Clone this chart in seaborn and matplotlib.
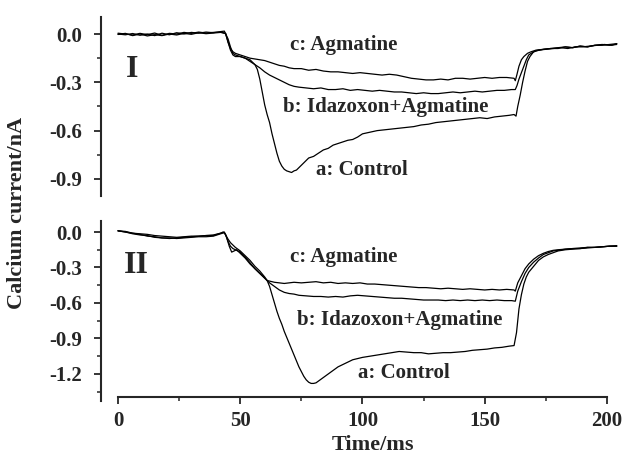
import numpy as np
import pandas as pd
import matplotlib
matplotlib.use("Agg")
import matplotlib.pyplot as plt
from matplotlib.ticker import MultipleLocator, FixedLocator
import seaborn as sns

# ---------------- data ----------------
# Panel I
I_a_t = [0, 3, 6, 9, 12, 15, 18, 21, 24, 27, 30, 33, 36, 39, 42, 43.5,
         45, 46, 47, 48, 50, 52, 54, 56, 57, 58, 59, 60, 61, 62, 63, 64, 65, 66, 67, 68, 69, 70, 71, 72, 73, 74,
         76, 78, 80, 82, 84, 86, 88, 90, 92, 94, 96, 98, 100, 103, 106, 109, 112, 115, 118, 121, 124, 127,
         130, 133, 136, 139, 142, 145, 148, 151, 154, 157, 160, 162, 162.8, 163.5, 164.5, 165.5, 166.5,
         167.5, 168.5, 170, 172, 175, 178, 181, 184, 187, 190, 193, 196, 199, 202, 204]
I_a_y = [0.0, -0.005, 0.003, -0.008, 0.0, -0.01, 0.005, -0.005, 0.008, 0.0, 0.01, 0.005, 0.012, 0.008, 0.015, 0.018,
         -0.03, -0.08, -0.12, -0.13, -0.14, -0.15, -0.17, -0.19, -0.22, -0.28, -0.36, -0.44, -0.50, -0.55, -0.62,
         -0.68, -0.74, -0.79, -0.82, -0.84, -0.85, -0.855, -0.86, -0.85, -0.845, -0.83,
         -0.80, -0.77, -0.76, -0.74, -0.72, -0.71, -0.69, -0.68, -0.67, -0.66, -0.655, -0.64, -0.62, -0.61,
         -0.60, -0.595, -0.59, -0.585, -0.58, -0.575, -0.565, -0.56,
         -0.55, -0.545, -0.54, -0.535, -0.53, -0.525, -0.52, -0.525, -0.515, -0.51, -0.505, -0.50, -0.51,
         -0.45, -0.38, -0.30, -0.23, -0.17, -0.14, -0.11, -0.10, -0.095, -0.09, -0.085, -0.09, -0.08, -0.08,
         -0.075, -0.07, -0.065, -0.07, -0.06]

I_c_t = [0, 3, 6, 9, 12, 15, 18, 21, 24, 27, 30, 33, 36, 39, 42, 44,
         45, 46, 47, 48, 50, 52, 54, 56, 58, 60, 62, 64, 66, 68, 70, 72, 75, 78, 81, 84, 87, 90, 93, 96, 99,
         102, 105, 108, 111, 114, 117, 120, 123, 126, 129, 132, 135, 138, 141, 144, 147, 150, 153, 156, 159,
         162, 162.5, 163.2, 164, 165, 166, 167.5, 169, 171, 174, 177, 180, 183, 186, 189, 192, 195, 198, 201, 204]
I_c_y = [0.005, 0.0, -0.006, 0.004, -0.004, 0.006, -0.008, 0.004, 0.0, 0.01, 0.004, 0.012, 0.006, 0.01, 0.012, 0.005,
         -0.05, -0.09, -0.11, -0.12, -0.13, -0.14, -0.15, -0.155, -0.16, -0.165, -0.175, -0.185, -0.195, -0.20,
         -0.21, -0.215, -0.215, -0.225, -0.22, -0.23, -0.235, -0.235, -0.24, -0.245, -0.24,
         -0.245, -0.25, -0.255, -0.25, -0.255, -0.265, -0.275, -0.28, -0.285, -0.285, -0.28, -0.285, -0.275,
         -0.275, -0.28, -0.275, -0.27, -0.275, -0.27, -0.27,
         -0.275, -0.29, -0.25, -0.20, -0.16, -0.14, -0.12, -0.11, -0.10, -0.095, -0.09, -0.085, -0.08,
         -0.085, -0.075, -0.08, -0.07, -0.065, -0.07, -0.065]

I_b_t = [0, 3, 6, 9, 12, 15, 18, 21, 24, 27, 30, 33, 36, 39, 42, 44,
         45, 46, 47, 48, 50, 52, 54, 56, 58, 60, 62, 64, 66, 68, 70, 72, 74, 77, 80, 83, 86, 89, 92, 95, 98,
         101, 104, 107, 110, 113, 116, 119, 122, 125, 128, 131, 134, 137, 140, 143, 146, 149, 152, 155, 158,
         161, 162.5, 163.2, 164, 165, 166, 167, 168, 169.5, 171, 174, 177, 180, 183, 186, 189, 192, 195, 198,
         201, 204]
I_b_y = [-0.003, 0.004, -0.01, 0.0, -0.012, -0.004, -0.01, 0.0, -0.006, 0.004, -0.002, 0.008, 0.002, 0.006, 0.01, 0.002,
         -0.05, -0.10, -0.13, -0.14, -0.14, -0.15, -0.16, -0.19, -0.21, -0.235, -0.255, -0.27, -0.285, -0.30,
         -0.315, -0.325, -0.33, -0.335, -0.34, -0.335, -0.345, -0.345, -0.34, -0.35, -0.345,
         -0.35, -0.355, -0.35, -0.355, -0.36, -0.36, -0.365, -0.37, -0.365, -0.37, -0.37, -0.365, -0.36, -0.365,
         -0.36, -0.355, -0.36, -0.355, -0.35, -0.35,
         -0.345, -0.345, -0.32, -0.28, -0.24, -0.20, -0.16, -0.13, -0.115, -0.105, -0.095, -0.09, -0.09,
         -0.08, -0.085, -0.075, -0.08, -0.07, -0.07, -0.065, -0.06]

# Panel II
II_a_t = [0, 3, 6, 9, 12, 15, 18, 21, 24, 27, 30, 33, 36, 39, 42, 43,
          44, 45, 46, 47, 48, 50, 52, 54, 56, 58, 60, 61, 62, 63, 64, 65, 66, 67, 68, 69, 70, 71, 72, 73, 74, 75,
          76, 77, 78, 79, 80, 81, 82, 84, 86, 88, 90, 92, 94, 96, 98, 100, 103, 106, 109, 112, 115, 118, 121,
          124, 127, 130, 133, 136, 139, 142, 145, 148, 151, 154, 157, 160, 162, 163, 164, 165, 166, 167, 168,
          170, 172, 174, 176, 178, 180, 183, 186, 189, 192, 195, 198, 201, 204]
II_a_y = [0.01, 0.0, -0.01, -0.015, -0.02, -0.03, -0.035, -0.04, -0.045, -0.04, -0.035, -0.035, -0.03, -0.03, -0.01, 0.0,
          -0.02, -0.08, -0.12, -0.14, -0.15, -0.17, -0.21, -0.26, -0.31, -0.35, -0.39, -0.41, -0.46, -0.53, -0.60,
          -0.67, -0.73, -0.78, -0.84, -0.89, -0.94, -0.99, -1.04, -1.09, -1.14, -1.18,
          -1.22, -1.25, -1.27, -1.28, -1.28, -1.275, -1.26, -1.23, -1.20, -1.17, -1.14, -1.12, -1.10, -1.08, -1.07,
          -1.06, -1.05, -1.04, -1.03, -1.02, -1.01, -1.015, -1.02,
          -1.02, -1.03, -1.025, -1.02, -1.02, -1.015, -1.01, -1.00, -0.995, -0.99, -0.98, -0.975, -0.965, -0.96,
          -0.85, -0.65, -0.53, -0.44, -0.38, -0.34,
          -0.29, -0.24, -0.21, -0.19, -0.175, -0.16, -0.15, -0.145, -0.14, -0.135, -0.13, -0.125, -0.12, -0.12]

II_c_t = [0, 3, 6, 9, 12, 15, 18, 21, 24, 27, 30, 33, 36, 39, 42, 43.5,
          44.5, 45.5, 46.5, 47.5, 48.5, 50, 52, 54, 56, 58, 60, 61, 62, 64, 66, 68, 70, 72, 75, 78, 81, 84, 87,
          90, 93, 96, 99, 102, 105, 108, 111, 114, 117, 120, 123, 126, 129, 132, 135, 138, 141, 144, 147, 150,
          153, 156, 159, 162, 162.5, 163.5, 165, 166.5, 168, 170, 172, 174, 176, 178, 180, 183, 186, 189, 192,
          195, 198, 201, 204]
II_c_y = [0.01, 0.0, -0.015, -0.025, -0.03, -0.045, -0.05, -0.055, -0.05, -0.045, -0.04, -0.035, -0.03, -0.025, -0.01, 0.0,
          -0.05, -0.12, -0.17, -0.16, -0.15, -0.18, -0.22, -0.27, -0.31, -0.35, -0.39, -0.41, -0.415, -0.425,
          -0.43, -0.435, -0.43, -0.425, -0.43, -0.425, -0.42, -0.43, -0.425,
          -0.435, -0.43, -0.435, -0.43, -0.44, -0.44, -0.445, -0.45, -0.455, -0.46, -0.465, -0.47, -0.47, -0.475,
          -0.48, -0.475, -0.48, -0.485, -0.48, -0.485, -0.49,
          -0.485, -0.49, -0.485, -0.49, -0.50, -0.43, -0.37, -0.31, -0.27, -0.23, -0.20, -0.18, -0.165, -0.155,
          -0.15, -0.145, -0.14, -0.14, -0.13, -0.13, -0.125, -0.12, -0.115]

II_b_t = [0, 3, 6, 9, 12, 15, 18, 21, 24, 27, 30, 33, 36, 39, 42, 43.5,
          45, 46, 48, 50, 52, 54, 56, 58, 60, 61, 62, 64, 66, 68, 70, 72, 74, 77, 80, 83, 86, 89, 92, 95, 98,
          101, 104, 107, 110, 113, 116, 119, 122, 125, 128, 131, 134, 137, 140, 143, 146, 149, 152, 155, 158,
          161, 162.5, 163.5, 165, 166.5, 168, 170, 172, 174, 176, 178, 180, 183, 186, 189, 192, 195, 198, 201, 204]
II_b_y = [0.01, 0.005, -0.01, -0.02, -0.035, -0.04, -0.05, -0.05, -0.055, -0.05, -0.045, -0.04, -0.04, -0.035, -0.015, -0.005,
          -0.06, -0.09, -0.13, -0.16, -0.20, -0.24, -0.29, -0.33, -0.38, -0.41, -0.43, -0.46, -0.49, -0.51, -0.52,
          -0.525, -0.535, -0.54, -0.545, -0.545, -0.55, -0.545, -0.55, -0.54, -0.535,
          -0.54, -0.545, -0.55, -0.555, -0.56, -0.56, -0.565, -0.57, -0.575, -0.575, -0.575, -0.58, -0.575, -0.58,
          -0.575, -0.58, -0.575, -0.58, -0.575, -0.58,
          -0.58, -0.585, -0.50, -0.42, -0.35, -0.30, -0.255, -0.22, -0.19, -0.175, -0.16, -0.155, -0.145,
          -0.14, -0.135, -0.13, -0.13, -0.125, -0.12, -0.12]

y_ticks_I = [0.0, -0.3, -0.6, -0.9]
y_ticks_II = [0.0, -0.3, -0.6, -0.9, -1.2]
x_ticks = [0, 50, 100, 150, 200]
label_a, label_b, label_c = "a: Control", "b: Idazoxon+Agmatine", "c: Agmatine"

# ---------------- style ----------------
sns.set_style("ticks")
plt.rcParams["font.family"] = ["Liberation Serif", "DejaVu Serif"]
plt.rcParams["font.weight"] = "bold"
plt.rcParams["axes.labelweight"] = "bold"

def frame(t, y, cond):
    return pd.DataFrame({"t": t, "y": y, "cond": cond})

df_I = pd.concat([frame(I_a_t, I_a_y, "a"), frame(I_b_t, I_b_y, "b"), frame(I_c_t, I_c_y, "c")])
df_II = pd.concat([frame(II_a_t, II_a_y, "a"), frame(II_b_t, II_b_y, "b"), frame(II_c_t, II_c_y, "c")])

fig = plt.figure(figsize=(6.23, 4.66), dpi=100)
W, H = 623.0, 466.0
left = 101 / W
width = 518.2 / W
ax1 = fig.add_axes([left, 1 - 196 / H, width, 179 / H])
ax2 = fig.add_axes([left, 1 - 401 / H, width, 180 / H])

TICKFS = 15
for ax, df in ((ax1, df_I), (ax2, df_II)):
    sns.lineplot(data=df, x="t", y="y", units="cond", estimator=None, sort=False,
                 color="black", linewidth=0.9, ax=ax, legend=False)
    ax.set_xlim(-6.95, 205)
    ax.spines["right"].set_visible(False)
    ax.spines["top"].set_visible(False)
    ax.spines["left"].set_linewidth(1.5)
    ax.yaxis.set_minor_locator(MultipleLocator(0.15))
    ax.tick_params(axis="y", which="major", direction="out", length=5, width=1.3,
                   labelsize=TICKFS, pad=8.5)
    ax.tick_params(axis="y", which="minor", direction="out", length=3, width=1.1)
    ax.set_xlabel("")
    ax.set_ylabel("")

ax1.set_ylim(-1.006, 0.1056)
ax1.set_yticks(y_ticks_I)
ax1.set_yticklabels([f"{v:.1f}" for v in y_ticks_I], fontweight="bold")
ax1.spines["bottom"].set_visible(False)
ax1.tick_params(axis="x", which="both", bottom=False, labelbottom=False)

ax2.set_ylim(-1.4286, 0.093)
ax2.set_yticks(y_ticks_II)
ax2.set_yticklabels([f"{v:.1f}" for v in y_ticks_II], fontweight="bold")
ax2.spines["bottom"].set_position(("data", -1.395))
ax2.spines["bottom"].set_bounds(0, 200)
ax2.spines["bottom"].set_linewidth(1.5)
ax2.set_xticks(x_ticks)
ax2.set_xticklabels([str(v) for v in x_ticks], fontweight="bold")
ax2.xaxis.set_minor_locator(FixedLocator([25, 75, 125, 175]))
ax2.tick_params(axis="x", which="major", direction="out", length=5, width=1.3,
                labelsize=TICKFS, pad=5)
ax2.tick_params(axis="x", which="minor", direction="out", length=3, width=1.1)

tkw = dict(fontsize=15, fontweight="bold", ha="center", va="center")
ax1.text(5.7, -0.22, "I", fontsize=23, fontweight="bold", ha="center", va="center")
ax1.text(92.4, -0.068, label_c, **tkw)
ax1.text(109.4, -0.453, label_b, **tkw)
ax1.text(99.6, -0.845, label_a, **tkw)

ax2.text(7.5, -0.28, "II", fontsize=23, fontweight="bold", ha="center", va="center")
ax2.text(92.4, -0.21, label_c, **tkw)
ax2.text(115.3, -0.744, label_b, **tkw)
ax2.text(117.0, -1.19, label_a, **tkw)

fig.text(17 / W, 1 - 213 / H, "Calcium current/nA", rotation=90, fontsize=16,
         fontweight="bold", ha="center", va="center")
fig.text(373 / W, 1 - 445 / H, "Time/ms", fontsize=16, fontweight="bold", ha="center", va="center")

fig.savefig("out.png", dpi=100)
